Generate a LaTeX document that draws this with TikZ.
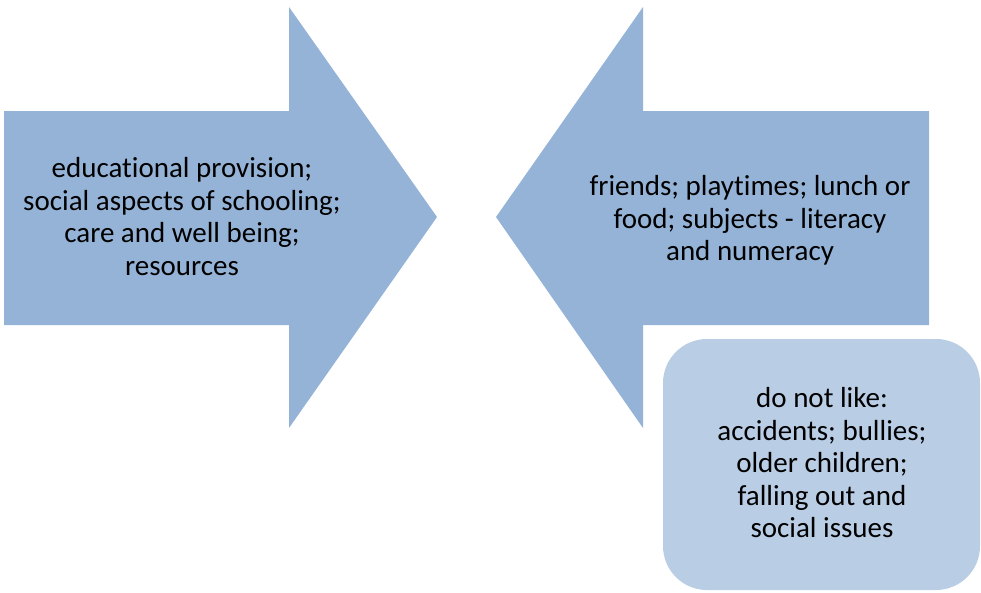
\documentclass[tikz,border=0pt]{standalone}
\usepackage{fontspec}
\setmainfont{Carlito}[Ligatures=NoCommon]
\definecolor{arrowblue}{HTML}{95B3D7}
\definecolor{boxblue}{HTML}{B9CDE5}
\tikzset{
  arrowshape/.style={fill=arrowblue, draw=none},
  label/.style={align=center, font=\fontsize{29}{32.5}\selectfont, inner sep=0pt, text=black},
  roundbox/.style={fill=boxblue, draw=none, rounded corners=44pt}
}
\begin{document}
\begin{tikzpicture}[x=1pt,y=-1pt]
\useasboundingbox (0,0) rectangle (981,592);
% left arrow (pointing right)
\path[arrowshape] (4,111) -- (289,111) -- (289,7) -- (437,217) -- (289,428) -- (289,325) -- (4,325) -- cycle;
% right arrow (pointing left)
\path[arrowshape] (929,111) -- (643,111) -- (643,7) -- (496,217) -- (643,428) -- (643,325) -- (929,325) -- cycle;
% rounded box
\path[roundbox] (663,339) rectangle (980,590);
\node[label] (lefttext) at (182,216.5) {educational provision;\\social aspects of schooling;\\care and well being;\\resources};
\node[label] (righttext) at (750,220.5) {friends; playtimes; lunch or\\food; subjects - literacy\\and numeracy};
\node[label] (boxtext) at (822,463) {do not like:\\accidents; bullies;\\older children;\\falling out and\\social issues};
\end{tikzpicture}
\end{document}
